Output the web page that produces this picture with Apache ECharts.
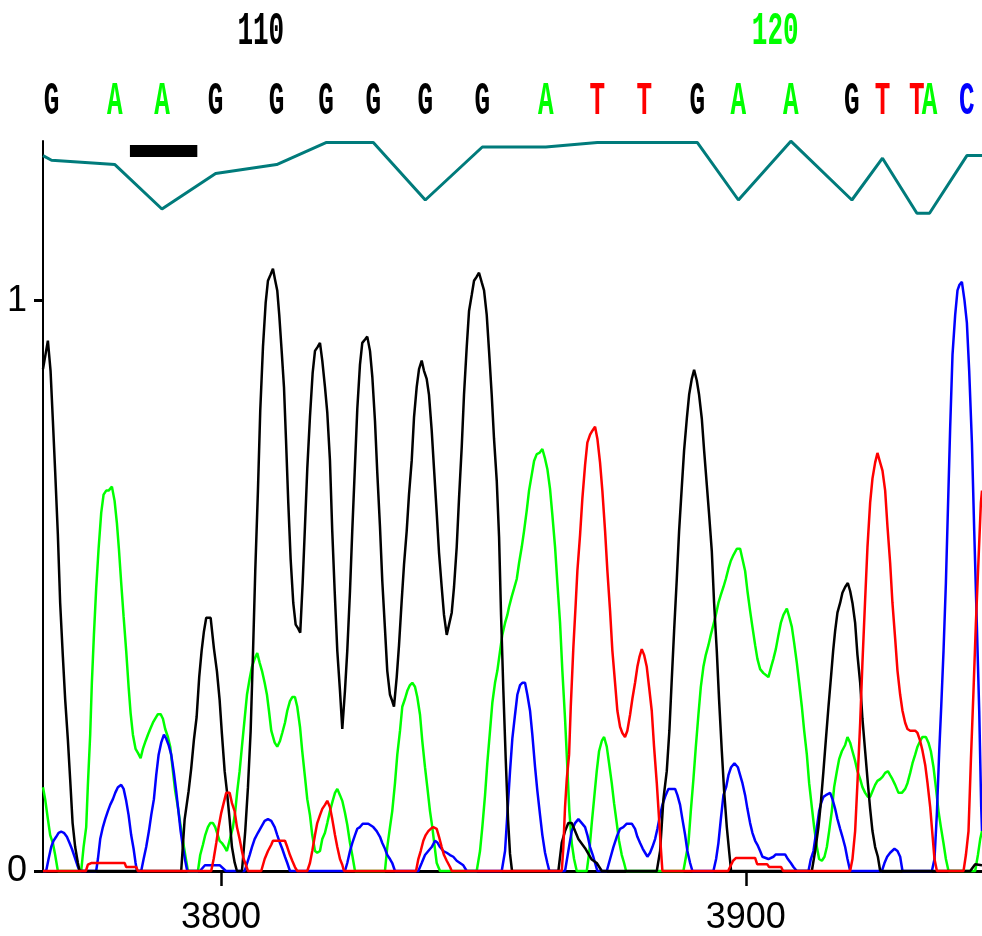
<!DOCTYPE html>
<html>
<head>
<meta charset="utf-8">
<script src="https://cdn.jsdelivr.net/npm/echarts@6/dist/echarts.min.js"></script>
<style>
html, body { margin: 0; padding: 0; background: #fff; }
#chart { width: 982px; height: 936px; }
</style>
</head>
<body>
<div id="chart"></div>
<script>
// scan position / signal pairs
var traceG = [
  [3766.1,0.88],[3767.03,0.93],[3767.54,0.877],[3767.98,0.79],[3768.42,0.70],[3768.93,0.59],[3769.37,0.47],[3769.89,0.375],[3770.33,0.30],[3770.84,0.23],[3771.28,0.16],[3771.74,0.084],[3772.23,0.042],[3772.75,0.014],[3773.07,0],
  [3792.43,0],[3793.08,0.09],[3793.84,0.14],[3794.34,0.18],[3794.85,0.23],[3795.37,0.27],[3795.86,0.34],[3796.32,0.386],[3796.76,0.42],[3797.20,0.444],[3798.04,0.444],[3798.67,0.39],[3799.24,0.35],[3799.75,0.30],[3800.19,0.24],[3800.71,0.175],[3801.14,0.14],[3801.66,0.09],[3802.10,0.042],[3802.61,0.015],[3803.05,0],
  [3804.00,0],[3804.19,0.02],[3804.63,0.07],[3805.15,0.147],[3805.66,0.245],[3806.10,0.38],[3806.54,0.526],[3807.05,0.667],[3807.49,0.807],[3808.01,0.919],[3808.52,0.996],[3808.96,1.035],[3809.47,1.046],[3809.91,1.056],[3810.35,1.035],[3810.73,1.018],[3811.11,0.975],[3811.57,0.912],[3812.01,0.849],[3812.39,0.758],[3812.83,0.646],[3813.28,0.547],[3813.78,0.47],[3814.24,0.432],[3814.73,0.425],[3815.11,0.418],
  [3815.57,0.505],[3816.01,0.604],[3816.45,0.705],[3816.96,0.796],[3817.48,0.874],[3817.92,0.912],[3818.43,0.919],[3818.87,0.926],[3819.31,0.895],[3819.82,0.849],[3820.26,0.804],[3820.77,0.72],[3821.21,0.596],[3821.67,0.491],[3822.17,0.386],[3822.68,0.316],[3823.12,0.249],
  [3823.63,0.316],[3824.07,0.386],[3824.59,0.491],[3825.02,0.596],[3825.54,0.712],[3825.98,0.81],[3826.49,0.888],[3826.93,0.926],[3827.45,0.932],[3827.88,0.937],[3828.40,0.912],[3828.84,0.867],[3829.35,0.789],[3829.79,0.698],[3830.30,0.604],[3830.74,0.509],[3831.25,0.425],[3831.69,0.351],[3832.21,0.309],[3832.64,0.298],[3832.97,0.288],
  [3833.49,0.34],[3833.93,0.396],[3834.44,0.474],[3834.88,0.537],[3835.39,0.596],[3835.83,0.66],[3836.35,0.72],[3836.79,0.796],[3837.30,0.849],[3837.74,0.88],[3838.25,0.895],[3838.69,0.877],[3839.20,0.863],[3839.64,0.835],[3840.16,0.772],[3840.60,0.705],[3841.11,0.628],[3841.55,0.558],[3842.06,0.498],[3842.50,0.449],[3843.02,0.414],
  [3843.46,0.432],[3843.97,0.453],[3844.41,0.498],[3844.92,0.568],[3845.36,0.653],[3845.88,0.744],[3846.31,0.835],[3846.83,0.919],[3847.27,0.982],[3847.78,1.01],[3848.22,1.035],[3848.73,1.042],[3849.17,1.049],[3849.69,1.032],[3850.13,1.018],[3850.64,0.975],[3851.08,0.912],[3851.59,0.835],[3852.03,0.758],[3852.55,0.684],[3852.99,0.586],[3853.37,0.449],[3853.81,0.316],[3854.26,0.196],[3854.70,0.09],[3855.08,0.03],[3855.46,0],
  [3864.29,0],[3864.94,0.05],[3865.56,0.07],[3866.19,0.084],[3866.84,0.084],[3868.10,0.056],[3869.38,0.04],[3870.65,0.02],[3871.60,0.014],[3872.56,0],
  [3883.04,0],[3883.67,0.035],[3884.30,0.126],[3884.94,0.175],[3885.44,0.246],[3885.90,0.337],[3886.34,0.421],[3886.85,0.512],[3887.29,0.596],[3887.81,0.674],[3888.24,0.737],[3888.76,0.793],[3889.20,0.835],[3889.71,0.863],[3890.15,0.879],[3890.66,0.86],[3891.10,0.835],[3891.62,0.793],[3892.06,0.737],[3892.57,0.677],[3893.01,0.625],[3893.52,0.561],[3893.96,0.47],[3894.47,0.386],[3894.91,0.30],[3895.43,0.21],[3895.87,0.14],[3896.38,0.077],[3896.82,0.035],[3897.20,0],
  [3912.58,0],[3913.21,0.035],[3913.84,0.077],[3914.30,0.12],[3914.79,0.175],[3915.25,0.23],[3915.75,0.288],[3916.20,0.337],[3916.64,0.386],[3917.02,0.421],[3917.46,0.453],[3917.97,0.47],[3918.41,0.488],[3918.93,0.498],[3919.44,0.505],[3919.88,0.491],[3920.32,0.47],[3920.83,0.435],[3921.27,0.379],[3921.79,0.33],[3922.22,0.267],[3922.74,0.21],[3923.25,0.154],[3923.69,0.109],[3924.13,0.07],[3924.64,0.042],[3925.16,0.025],[3925.60,0],
  [3942.75,0],[3943.70,0.012],[3945,0.01]
];

var traceA = [
  [3766.1,0.147],[3766.51,0.126],[3767.03,0.091],[3767.47,0.063],[3767.98,0.049],[3768.42,0.028],[3768.93,0],
  [3773.38,0],[3773.83,0.042],[3774.33,0.077],[3774.65,0.151],[3775.09,0.239],[3775.41,0.33],[3775.80,0.414],[3776.23,0.495],[3776.69,0.565],[3777.19,0.628],[3777.64,0.66],[3778.14,0.667],[3778.60,0.667],[3779.23,0.674],[3779.74,0.649],[3780.18,0.61],[3780.56,0.565],[3781.00,0.505],[3781.46,0.446],[3781.95,0.386],[3782.41,0.323],[3782.79,0.277],[3783.23,0.239],[3783.74,0.214],[3784.18,0.207],[3784.70,0.198],
  [3785.13,0.214],[3785.65,0.228],[3786.09,0.239],[3786.53,0.249],[3787.04,0.26],[3787.48,0.267],[3787.99,0.275],[3788.51,0.275],[3788.95,0.267],[3789.38,0.249],[3789.90,0.235],[3790.34,0.218],[3790.85,0.175],[3791.29,0.14],[3791.80,0.112],[3792.24,0.084],[3792.76,0.053],[3793.20,0.028],[3793.71,0],
  [3795.62,0],[3796.05,0.028],[3796.57,0.046],[3797.01,0.063],[3797.52,0.077],[3797.96,0.084],[3798.48,0.084],[3798.91,0.077],[3799.75,0.053],[3800.19,0.049],[3800.71,0.042],[3801.14,0.035],
  [3802.29,0.077],[3802.73,0.105],[3803.11,0.14],[3803.56,0.175],[3804.00,0.218],[3804.52,0.267],[3804.96,0.309],[3805.47,0.337],[3805.91,0.358],[3806.42,0.372],[3806.92,0.382],[3807.38,0.365],[3807.82,0.351],[3808.33,0.33],[3808.77,0.309],[3809.15,0.281],[3809.59,0.246],[3810.24,0.225],[3810.73,0.218],
  [3811.25,0.228],[3811.68,0.242],[3812.20,0.26],[3812.64,0.281],[3813.15,0.298],[3813.59,0.305],[3814.10,0.305],[3814.54,0.288],[3815.06,0.253],[3815.49,0.21],[3816.01,0.165],[3816.45,0.126],[3816.96,0.098],[3817.40,0.063],[3817.92,0.035],[3818.35,0.032],
  [3818.87,0.035],[3819.31,0.056],[3819.82,0.067],[3820.26,0.084],[3820.77,0.105],[3821.29,0.123],[3821.73,0.137],[3822.17,0.144],[3822.68,0.133],[3823.12,0.123],[3823.63,0.102],[3824.07,0.081],[3824.59,0.049],[3825.02,0.028],[3825.54,0],
  [3831.25,0],[3831.69,0.042],[3832.21,0.077],[3832.64,0.105],[3833.16,0.154],[3833.60,0.204],[3834.12,0.246],[3834.55,0.288],[3835.07,0.302],[3835.51,0.316],[3836.02,0.326],[3836.46,0.33],[3836.97,0.323],[3837.41,0.305],[3837.93,0.274],[3838.36,0.228],[3838.88,0.182],[3839.32,0.147],[3839.83,0.105],[3840.27,0.077],[3840.73,0.042],[3841.11,0.014],[3841.74,0],
  [3848.73,0],[3849.36,0.035],[3849.80,0.077],[3850.32,0.133],[3850.75,0.189],[3851.27,0.246],[3851.71,0.295],[3852.22,0.33],[3852.66,0.351],[3853.18,0.386],[3853.61,0.414],[3854.13,0.435],[3854.57,0.449],[3854.89,0.463],[3855.40,0.481],[3855.84,0.495],[3856.36,0.512],[3856.80,0.54],[3857.31,0.568],[3857.75,0.596],[3858.26,0.632],[3858.70,0.667],[3859.22,0.695],[3859.66,0.719],[3860.17,0.731],[3860.67,0.733],[3861.24,0.74],
  [3861.75,0.723],[3862.19,0.705],[3862.70,0.67],[3863.14,0.625],[3863.66,0.568],[3864.10,0.505],[3864.61,0.435],[3865.05,0.351],[3865.56,0.267],[3866.00,0.182],[3866.38,0.105],[3866.84,0.049],[3867.28,0.021],[3867.79,0],
  [3869.70,0],[3870.19,0.035],[3870.65,0.084],[3871.09,0.126],[3871.60,0.175],[3872.04,0.21],[3872.56,0.228],[3873.00,0.235],[3873.51,0.218],[3873.95,0.189],[3874.46,0.154],[3874.90,0.119],[3875.41,0.084],[3875.85,0.053],[3876.37,0.028],[3876.81,0.014],[3877.19,0],
  [3888.11,0],[3889.07,0.049],[3889.52,0.105],[3890.02,0.161],[3890.48,0.218],[3890.97,0.274],[3891.43,0.323],[3891.92,0.358],[3892.38,0.379],[3892.88,0.396],[3893.33,0.414],[3893.83,0.432],[3894.29,0.449],[3894.78,0.47],[3895.24,0.484],[3895.74,0.498],[3896.19,0.512],[3896.69,0.53],[3897.15,0.544],[3897.64,0.554],[3898.29,0.565],[3898.92,0.565],
  [3899.36,0.547],[3899.87,0.526],[3900.31,0.491],[3900.82,0.456],[3901.26,0.428],[3901.78,0.396],[3902.21,0.372],[3902.73,0.354],[3903.36,0.347],[3904.31,0.34],[3904.83,0.358],[3905.26,0.372],[3905.72,0.389],[3906.22,0.414],[3906.67,0.435],[3907.17,0.449],[3907.82,0.46],
  [3908.26,0.446],[3908.77,0.428],[3909.21,0.4],[3909.72,0.365],[3910.16,0.33],[3910.68,0.288],[3911.12,0.246],[3911.63,0.204],[3912.07,0.154],[3912.58,0.112],[3913.02,0.077],[3913.54,0.042],[3913.97,0.021],[3914.49,0.018],
  [3914.99,0.025],[3915.44,0.042],[3915.88,0.07],[3916.39,0.105],[3916.83,0.147],[3917.35,0.175],[3917.78,0.196],[3918.30,0.21],[3918.93,0.221],[3919.37,0.235],[3919.88,0.225],[3920.32,0.21],[3920.83,0.193],[3921.27,0.175],[3921.79,0.161],[3922.22,0.147],[3922.74,0.137],[3923.25,0.13],[3923.69,0.13],
  [3924.13,0.14],[3924.64,0.151],[3925.08,0.158],[3925.60,0.161],[3926.04,0.165],[3926.55,0.172],[3927.07,0.175],[3927.50,0.168],[3927.94,0.161],[3928.46,0.151],[3929.09,0.137],[3929.73,0.137],
  [3930.36,0.144],[3930.80,0.154],[3931.32,0.172],[3931.76,0.189],[3932.27,0.204],[3932.71,0.218],[3933.22,0.228],[3933.66,0.235],[3934.31,0.235],[3934.80,0.225],[3935.26,0.21],[3935.76,0.182],[3936.21,0.147],[3936.71,0.105],[3937.17,0.077],[3937.66,0.049],[3938.12,0.021],[3938.62,0],
  [3943.70,0],[3944.22,0.028],[3944.66,0.056],[3945,0.07]
];

var traceC = [
  [3766.1,0],[3766.70,0],[3767.16,0.021],[3767.66,0.042],[3768.11,0.053],[3768.61,0.06],[3769.07,0.067],[3769.56,0.069],[3770.08,0.067],[3770.65,0.06],[3771.16,0.049],[3771.60,0.039],[3772.12,0.025],[3772.61,0.011],[3773.07,0],
  [3776.23,0],[3776.56,0.021],[3777.00,0.056],[3777.51,0.077],[3777.95,0.091],[3778.46,0.105],[3778.90,0.116],[3779.42,0.126],[3779.86,0.137],[3780.37,0.147],[3781.00,0.151],[3781.46,0.144],[3781.95,0.123],[3782.41,0.098],[3782.90,0.063],[3783.36,0.039],[3783.74,0.014],[3783.99,0],
  [3784.81,0],[3785.27,0.021],[3785.76,0.042],[3786.28,0.07],[3786.72,0.098],[3787.23,0.126],[3787.67,0.168],[3788.13,0.204],[3788.62,0.225],[3789.14,0.239],[3789.58,0.232],[3790.03,0.221],[3790.53,0.204],[3791.04,0.172],[3791.48,0.14],[3791.94,0.102],[3792.32,0.07],[3792.76,0.042],[3793.20,0.018],[3793.58,0],
  [3796.00,0],[3796.95,0.01],[3799.81,0.01],[3800.95,0],
  [3804.52,0],[3805.47,0.028],[3805.91,0.042],[3806.42,0.056],[3807.05,0.067],[3808.33,0.088],[3808.96,0.091],[3809.59,0.088],[3810.24,0.077],[3810.73,0.063],[3811.25,0.049],[3811.68,0.039],[3812.20,0.025],[3812.64,0.014],[3813.15,0],
  [3823.63,0],[3824.07,0.014],[3824.59,0.035],[3825.02,0.049],[3825.54,0.063],[3825.98,0.074],[3826.49,0.077],[3827.01,0.083],[3828.07,0.083],[3829.03,0.077],[3829.67,0.07],[3830.30,0.06],[3830.74,0.049],[3831.25,0.039],[3831.69,0.028],[3832.21,0.021],[3832.64,0.014],[3833.16,0],
  [3837.61,0],[3838.25,0.014],[3838.88,0.028],[3839.51,0.035],[3840.16,0.042],[3840.79,0.053],[3841.23,0.05],[3841.74,0.042],[3842.37,0.035],[3843.02,0.032],[3843.65,0.028],[3844.27,0.025],[3844.92,0.018],[3845.55,0.014],[3846.18,0.01],[3846.83,0],
  [3853.50,0],[3854.13,0.035],[3854.57,0.1],[3855.08,0.175],[3855.52,0.232],[3856.03,0.274],[3856.47,0.309],[3856.99,0.326],[3857.42,0.33],[3857.94,0.33],[3858.38,0.309],[3858.89,0.281],[3859.33,0.239],[3859.85,0.182],[3860.29,0.14],[3860.80,0.098],[3861.24,0.063],[3861.75,0.032],[3862.19,0.014],[3862.57,0],
  [3865.56,0],[3866.19,0.035],[3866.84,0.07],[3867.47,0.084],[3868.10,0.091],[3868.75,0.084],[3869.38,0.077],[3869.82,0.063],[3870.33,0.042],[3870.85,0.028],[3871.28,0.014],[3871.72,0],
  [3873.51,0],[3874.14,0.021],[3874.77,0.042],[3875.41,0.06],[3876.04,0.074],[3876.67,0.077],[3877.32,0.083],[3878.28,0.083],[3878.90,0.074],[3879.34,0.06],[3879.86,0.049],[3880.37,0.039],[3880.81,0.032],[3881.25,0.025],
  [3881.76,0.032],[3882.20,0.042],[3882.72,0.056],[3883.16,0.074],[3883.67,0.098],[3884.11,0.116],[3884.62,0.13],[3885.25,0.144],[3886.53,0.144],[3886.97,0.133],[3887.48,0.116],[3887.92,0.091],[3888.44,0.063],[3888.87,0.035],[3889.39,0.014],[3889.83,0],
  [3893.83,0],[3894.34,0.021],[3894.78,0.049],[3895.24,0.091],[3895.74,0.133],[3896.25,0.147],[3896.69,0.168],[3897.20,0.182],[3897.83,0.189],[3898.48,0.182],[3898.92,0.168],[3899.36,0.154],[3899.87,0.133],[3900.31,0.109],[3900.82,0.084],[3901.26,0.067],[3901.78,0.053],[3902.21,0.046],[3902.73,0.035],[3903.17,0.025],[3904.31,0.021],
  [3905.26,0.025],[3905.72,0.029],[3907.49,0.029],[3908.01,0.021],[3908.58,0.014],[3909.08,0.007],[3909.73,0],
  [3911.94,0],[3912.39,0.021],[3912.89,0.035],[3913.21,0.056],[3913.54,0.077],[3913.97,0.105],[3914.35,0.119],[3914.79,0.13],[3915.25,0.133],[3916.07,0.137],[3916.51,0.126],[3917.02,0.109],[3917.46,0.091],[3917.97,0.074],[3918.41,0.06],[3918.93,0.042],[3919.37,0.021],[3919.88,0],
  [3925.92,0],[3926.42,0.014],[3926.93,0.025],[3927.50,0.032],[3928.32,0.039],[3928.90,0.035],[3929.41,0.025],[3929.85,0],
  [3935.45,0],[3935.95,0.021],[3936.41,0.102],[3936.85,0.21],[3937.23,0.288],[3937.67,0.386],[3938.12,0.505],[3938.50,0.632],[3938.94,0.779],[3939.38,0.905],[3939.89,0.975],[3940.33,1.018],[3940.71,1.028],[3941.17,1.033],
  [3941.67,1.0],[3942.12,0.961],[3942.56,0.877],[3943.08,0.751],[3943.52,0.596],[3944.03,0.428],[3944.47,0.281],[3944.85,0.112],[3945,0.07]
];

var traceT = [
  [3766.1,0],[3774.27,0],[3774.65,0.011],[3775.28,0.014],[3781.65,0.014],[3781.95,0.007],[3783.86,0.007],[3784.18,0],
  [3798.15,0],[3798.61,0.021],[3799.11,0.049],[3799.56,0.077],[3800.06,0.102],[3800.52,0.119],[3801.01,0.137],[3801.66,0.137],[3802.10,0.119],[3802.61,0.105],[3803.05,0.077],[3803.56,0.056],[3804.00,0.035],[3804.33,0.021],[3804.63,0.014],[3805.15,0],
  [3807.68,0],[3808.33,0.021],[3808.96,0.035],[3809.59,0.046],[3809.91,0.053],[3812.20,0.053],[3812.64,0.042],[3813.15,0.028],[3813.59,0.018],[3814.10,0.007],[3814.54,0],
  [3816.45,0],[3816.96,0.014],[3817.40,0.035],[3817.92,0.063],[3818.35,0.084],[3818.87,0.098],[3819.31,0.109],[3819.82,0.116],[3820.26,0.123],[3820.77,0.112],[3821.21,0.091],[3821.73,0.063],[3822.17,0.042],[3822.68,0.021],[3823.12,0.011],[3823.44,0],
  [3837.17,0],[3837.61,0.021],[3838.06,0.035],[3838.56,0.053],[3839.01,0.063],[3839.51,0.07],[3839.97,0.074],[3840.46,0.077],[3841.11,0.074],[3841.55,0.06],[3842.06,0.042],[3842.50,0.028],[3843.02,0.018],[3843.65,0.007],[3843.97,0],
  [3864.94,0],[3865.24,0.042],[3865.56,0.112],[3865.89,0.161],[3866.33,0.204],[3866.65,0.288],[3867.15,0.393],[3867.60,0.47],[3867.91,0.526],[3868.42,0.589],[3868.86,0.653],[3869.38,0.712],[3869.81,0.751],[3870.33,0.765],[3870.77,0.772],[3871.28,0.779],
  [3871.72,0.758],[3872.23,0.716],[3872.67,0.667],[3873.19,0.596],[3873.63,0.526],[3874.14,0.456],[3874.58,0.386],[3875.09,0.33],[3875.53,0.281],[3876.04,0.253],[3876.48,0.242],[3876.99,0.235],
  [3877.43,0.246],[3877.95,0.274],[3878.39,0.302],[3878.90,0.33],[3879.34,0.358],[3879.72,0.375],[3880.18,0.389],[3880.62,0.379],[3881.13,0.358],[3881.57,0.323],[3882.08,0.281],[3882.52,0.218],[3883.04,0.154],[3883.48,0.091],[3883.80,0.042],[3884.11,0],
  [3896.63,0],[3897.58,0.018],[3898.15,0.023],[3901.77,0.023],[3902.16,0.012],[3904.06,0.012],[3904.44,0.007],[3906.73,0.007],[3907.11,0],
  [3919.88,0],[3920.32,0.021],[3920.83,0.07],[3921.27,0.154],[3921.79,0.26],[3922.22,0.365],[3922.74,0.477],[3923.18,0.568],[3923.69,0.646],[3924.13,0.688],[3924.64,0.716],[3925.08,0.733],[3925.60,0.716],[3926.04,0.702],[3926.55,0.667],[3926.99,0.604],[3927.50,0.54],[3927.94,0.47],[3928.46,0.407],[3928.90,0.351],[3929.41,0.309],[3929.85,0.281],[3930.36,0.26],[3930.80,0.249],[3931.32,0.246],[3932.27,0.246],
  [3932.71,0.242],[3933.22,0.228],[3933.66,0.211],[3934.18,0.186],[3934.62,0.154],[3935.13,0.112],[3935.57,0.063],[3935.95,0.021],[3936.41,0],
  [3941.48,0],[3941.93,0.028],[3942.43,0.07],[3942.89,0.196],[3943.38,0.316],[3943.84,0.435],[3944.34,0.547],[3944.79,0.646],[3945,0.667]
];

// base calls, their scan positions and quality
var baseCalls = ['G','A','A','G','G','G','G','G','G','A','T','T','G','A','A','G','T','T','A','C'];
var basePos = [3767.73,3779.80,3788.76,3798.99,3810.62,3820.01,3829.03,3838.94,3849.80,3861.89,3871.72,3880.68,3890.78,3898.59,3908.58,3920.21,3926.04,3932.60,3935.00,3942.12];
var baseQual = [34.9,32.7,10.5,28.2,32.7,43.7,43.7,15,41.5,41.5,43.7,43.7,43.7,15,44.4,15,35.9,8.4,8.4,37.2];
var edgeQual = [37.2, 37.2];

// base numbering ruler
var rulerNum = [110, 120];
var rulerPos = [3807.6, 3905.6];

// highlighted range bar
var markRange = [3782.66, 3795.5];

var xTicks = [3800, 3900];
var yTicks = [0, 1];

var xMin = 3766.1, xMax = 3945;
var baseColor = { A: '#00ff00', C: '#0000ff', G: '#000000', T: '#ff0000' };

var chartDom = document.getElementById('chart');
var myChart = echarts.init(chartDom);

var qualityLine = [[xMin, edgeQual[0]]];
for (var i = 0; i < basePos.length; i++) {
  qualityLine.push([basePos[i], baseQual[i]]);
}
qualityLine.push([xMax, edgeQual[1]]);

var LETTER_ROW = 63.5, RULER_ROW = 98.5, BAR_ROW = 39.5;
var glyphFont = 'bold 26px "Liberation Mono", "DejaVu Sans Mono", monospace';
var labelFont = '"Liberation Sans", Arial, sans-serif';

function traceSeries(name, data, color) {
  return {
    name: name,
    type: 'line',
    xAxisIndex: 0,
    yAxisIndex: 0,
    data: data,
    symbol: 'none',
    clip: false,
    lineStyle: { color: color, width: 2.5 }
  };
}

function textSeries(data, textFn, colorFn) {
  return {
    type: 'custom',
    xAxisIndex: 1,
    yAxisIndex: 1,
    data: data,
    renderItem: function (params, api) {
      var p = api.coord([api.value(0), api.value(1)]);
      return {
        type: 'text',
        x: p[0],
        y: p[1],
        scaleY: 1.75,
        style: {
          text: textFn(params.dataIndex),
          fill: colorFn(params.dataIndex),
          font: glyphFont,
          align: 'center',
          verticalAlign: 'middle',
          textAlign: 'center',
          textVerticalAlign: 'middle'
        }
      };
    }
  };
}

var option = {
  animation: false,
  backgroundColor: '#ffffff',
  grid: [
    { left: 43, right: 0, top: 141, bottom: 63 },
    { left: 43, right: 0, top: 0, height: 230 }
  ],
  xAxis: [
    {
      type: 'value',
      gridIndex: 0,
      min: xMin,
      max: xMax,
      splitLine: { show: false },
      axisLine: { lineStyle: { color: '#000', width: 3 } },
      axisTick: { customValues: xTicks, length: 15, lineStyle: { color: '#000', width: 2.5 } },
      axisLabel: {
        customValues: xTicks,
        formatter: function (v) { return String(v); },
        color: '#000',
        fontFamily: labelFont,
        fontSize: 36,
        margin: 29
      }
    },
    { type: 'value', gridIndex: 1, min: xMin, max: xMax, show: false }
  ],
  yAxis: [
    {
      type: 'value',
      gridIndex: 0,
      min: 0,
      max: 1.28,
      splitLine: { show: false },
      axisLine: { show: true, lineStyle: { color: '#000', width: 2 } },
      axisTick: { show: true, customValues: yTicks, length: 9, lineStyle: { color: '#000', width: 3 } },
      axisLabel: {
        customValues: yTicks,
        formatter: function (v) { return String(v); },
        color: '#000',
        fontFamily: labelFont,
        fontSize: 36,
        margin: 16
      }
    },
    { type: 'value', gridIndex: 1, min: 0, max: 115, show: false }
  ],
  series: [
    traceSeries('A', traceA, baseColor.A),
    traceSeries('C', traceC, baseColor.C),
    traceSeries('G', traceG, baseColor.G),
    traceSeries('T', traceT, baseColor.T),
    {
      name: 'quality',
      type: 'line',
      xAxisIndex: 1,
      yAxisIndex: 1,
      data: qualityLine,
      symbol: 'none',
      lineStyle: { color: '#007b7b', width: 3 }
    },
    {
      name: 'range',
      type: 'line',
      xAxisIndex: 1,
      yAxisIndex: 1,
      data: [[markRange[0], BAR_ROW], [markRange[1], BAR_ROW]],
      symbol: 'none',
      lineStyle: { color: '#000', width: 12, cap: 'butt' }
    },
    textSeries(basePos.map(function (x) { return [x, LETTER_ROW]; }),
      function (i) { return baseCalls[i]; },
      function (i) { return baseColor[baseCalls[i]]; }),
    textSeries(rulerPos.map(function (x) { return [x, RULER_ROW]; }),
      function (i) { return String(rulerNum[i]); },
      function (i) { return baseColor[baseCalls[rulerNum[i] - 106]]; })
  ]
};

option && myChart.setOption(option);
</script>
</body>
</html>
